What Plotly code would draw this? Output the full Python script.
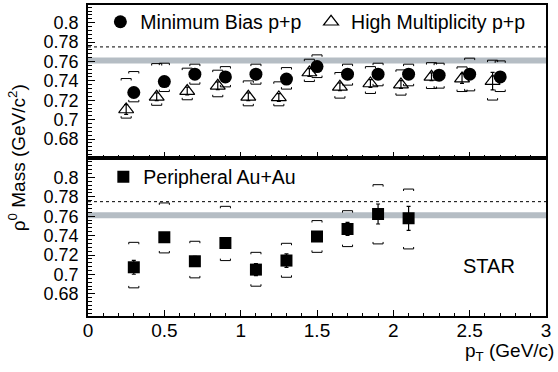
import plotly.graph_objects as go

# ---------------- data ----------------
pt_mb = [0.3, 0.5, 0.7, 0.9, 1.1, 1.3, 1.5, 1.7, 1.9, 2.1, 2.3, 2.5, 2.7]
mass_mb = [0.7280, 0.7393, 0.7469, 0.7441, 0.7469, 0.7418, 0.7547, 0.7469, 0.7469, 0.7469, 0.7459, 0.7469, 0.7441]
stat_mb = [0.004] * 13
sys_up_mb = [0.7496, 0.7582, 0.7572, 0.7547, 0.7572, 0.7537, 0.7668, 0.7572, 0.7582, 0.7572, 0.7582, 0.7634, 0.7606]
sys_lo_mb = [0.7184, 0.7290, 0.7366, 0.7338, 0.7366, 0.7315, 0.7434, 0.7356, 0.7349, 0.7349, 0.7325, 0.7297, 0.7290]

pt_hm = [0.25, 0.45, 0.65, 0.85, 1.05, 1.25, 1.45, 1.65, 1.85, 2.05, 2.25, 2.45, 2.65]
mass_hm = [0.7105, 0.7236, 0.7295, 0.7349, 0.7236, 0.7229, 0.7486, 0.7339, 0.7373, 0.7362, 0.7442, 0.7424, 0.7397]
stat_hm = [0.005, 0.004, 0.004, 0.004, 0.004, 0.004, 0.004, 0.004, 0.004, 0.004, 0.004, 0.005, 0.009]
sys_up_hm = [0.7424, 0.7578, 0.7531, 0.7510, 0.7400, 0.7390, 0.7623, 0.7486, 0.7547, 0.7513, 0.7588, 0.7544, 0.7613]
sys_lo_hm = [0.7016, 0.7148, 0.7205, 0.7236, 0.7143, 0.7143, 0.7393, 0.7222, 0.7270, 0.7253, 0.7321, 0.7290, 0.7202]

pt_au = [0.3, 0.5, 0.7, 0.9, 1.1, 1.3, 1.5, 1.7, 1.9, 2.1]
mass_au = [0.7074, 0.7383, 0.7136, 0.7325, 0.7050, 0.7143, 0.7390, 0.7469, 0.7623, 0.7578]
stat_au = [0.0072, 0.004, 0.005, 0.005, 0.0063, 0.0069, 0.004, 0.0067, 0.0103, 0.0123]
sys_up_au = [0.7331, 0.7737, 0.7342, 0.7702, 0.7228, 0.7321, 0.7555, 0.7657, 0.7925, 0.7880]
sys_lo_au = [0.6862, 0.7222, 0.6965, 0.7143, 0.6879, 0.6971, 0.7228, 0.7287, 0.7315, 0.7263]

pdg_mass = 0.775      # dashed line
band_center = 0.761   # grey band
band_half = 0.003

x_range = [0, 3]
y_range_top = [0.6608, 0.8182]
y_range_bot = [0.6572, 0.8203]

x_ticks = [0, 0.5, 1, 1.5, 2, 2.5, 3]
x_ticklabels = ["0", "0.5", "1", "1.5", "2", "2.5", "3"]
y_ticks = [0.68, 0.70, 0.72, 0.74, 0.76, 0.78, 0.80]
y_ticklabels = ["0.68", "0.7", "0.72", "0.74", "0.76", "0.78", "0.8"]

FONT = "Liberation Sans, Arial, Helvetica, sans-serif"
BW = 0.033   # bracket half width (x units)
BT = 0.002   # bracket tick length (y units)


def brackets(xs, ups, los):
    bx, by = [], []
    for x, u, l in zip(xs, ups, los):
        bx += [x - BW, x - BW, x + BW, x + BW, None]
        by += [u - BT, u, u, u - BT, None]
        bx += [x - BW, x - BW, x + BW, x + BW, None]
        by += [l + BT, l, l, l + BT, None]
    return bx, by


fig = go.Figure()

# top panel (x2, y2)
for xs, ups, los in [(pt_mb, sys_up_mb, sys_lo_mb), (pt_hm, sys_up_hm, sys_lo_hm)]:
    bx, by = brackets(xs, ups, los)
    fig.add_trace(go.Scatter(x=bx, y=by, mode="lines", line=dict(color="black", width=1),
                             xaxis="x2", yaxis="y2", showlegend=False, hoverinfo="skip"))

fig.add_trace(go.Scatter(
    x=pt_hm, y=mass_hm, mode="markers", name="High Multiplicity p+p",
    marker=dict(symbol="triangle-up-open", size=13, color="black", line=dict(width=1.2, color="black")),
    error_y=dict(type="data", array=stat_hm, color="black", thickness=1.2, width=2),
    xaxis="x2", yaxis="y2", legend="legend2"))
fig.add_trace(go.Scatter(
    x=pt_mb, y=mass_mb, mode="markers", name="Minimum Bias p+p",
    marker=dict(symbol="circle", size=13, color="black"),
    error_y=dict(type="data", array=stat_mb, color="black", thickness=1.2, width=2),
    xaxis="x2", yaxis="y2", legend="legend"))

# bottom panel (x, y)
bx, by = brackets(pt_au, sys_up_au, sys_lo_au)
fig.add_trace(go.Scatter(x=bx, y=by, mode="lines", line=dict(color="black", width=1),
                         xaxis="x", yaxis="y", showlegend=False, hoverinfo="skip"))
fig.add_trace(go.Scatter(
    x=pt_au, y=mass_au, mode="markers", name="Peripheral Au+Au",
    marker=dict(symbol="square", size=12, color="black"),
    error_y=dict(type="data", array=stat_au, color="black", thickness=1.2, width=2),
    xaxis="x", yaxis="y", legend="legend3"))

# reference band and dashed line in both panels
for xr, yr in [("x", "y"), ("x2", "y2")]:
    fig.add_shape(type="rect", xref=xr, yref=yr, x0=x_range[0], x1=x_range[1],
                  y0=band_center - band_half, y1=band_center + band_half,
                  fillcolor="#b5bdc4", line=dict(width=0), layer="below")
    fig.add_shape(type="line", xref=xr, yref=yr, x0=x_range[0], x1=x_range[1],
                  y0=pdg_mass, y1=pdg_mass, line=dict(color="black", width=1, dash="3px,3px"),
                  layer="below")

axis_common = dict(showline=True, linecolor="black", linewidth=1.5, mirror=True,
                   showgrid=False, zeroline=False, ticks="inside", tickcolor="black")

fig.update_layout(
    width=558, height=372,
    margin=dict(l=88, r=12, t=4, b=56),
    paper_bgcolor="white", plot_bgcolor="white",
    font=dict(family=FONT, color="black"),
    xaxis=dict(domain=[0, 1], range=x_range, anchor="y", tickvals=x_ticks, ticktext=x_ticklabels,
               ticklen=6, tickwidth=1, tickfont=dict(size=19), ticklabelstandoff=-4,
               minor=dict(dtick=0.1, ticklen=3, tickcolor="black", ticks="inside"), **axis_common),
    xaxis2=dict(domain=[0, 1], range=x_range, anchor="y2", matches="x", tickvals=x_ticks,
                showticklabels=False, ticklen=6, tickwidth=1,
                minor=dict(dtick=0.1, ticklen=3, tickcolor="black", ticks="inside"), **axis_common),
    yaxis=dict(domain=[0, 0.509], range=y_range_bot, anchor="x", tickvals=y_ticks, ticktext=y_ticklabels,
               ticklen=7, tickwidth=1, tickfont=dict(size=18), ticklabelstandoff=4,
               minor=dict(dtick=0.004, tick0=0.68, ticklen=4, tickcolor="black", ticks="inside"), **axis_common),
    yaxis2=dict(domain=[0.509, 1], range=y_range_top, anchor="x2", tickvals=y_ticks, ticktext=y_ticklabels,
                ticklen=7, tickwidth=1, tickfont=dict(size=18), ticklabelstandoff=4,
                minor=dict(dtick=0.004, tick0=0.68, ticklen=4, tickcolor="black", ticks="inside"), **axis_common),
    legend=dict(x=0.027, y=0.942, xanchor="left", yanchor="middle", orientation="h",
                font=dict(size=19.5), bgcolor="rgba(0,0,0,0)", itemwidth=30),
    legend2=dict(x=0.487, y=0.942, xanchor="left", yanchor="middle", orientation="h",
                 font=dict(size=19.5), bgcolor="rgba(0,0,0,0)", itemwidth=30),
    legend3=dict(x=0.0335, y=0.445, xanchor="left", yanchor="middle", orientation="h",
                 font=dict(size=19.5), bgcolor="rgba(0,0,0,0)", itemwidth=30),
    annotations=[
        dict(text="ρ<sup>0</sup> Mass (GeV/c<sup>2</sup>)", xref="paper", yref="paper",
             x=-0.156, y=0.509, textangle=-90, showarrow=False, font=dict(size=19),
             xanchor="center", yanchor="middle"),
        dict(text="p<sub>T</sub> (GeV/c)", xref="paper", yref="paper",
             x=1.022, y=-0.117, showarrow=False, font=dict(size=19),
             xanchor="right", yanchor="middle"),
        dict(text="STAR", xref="paper", yref="paper", x=0.875, y=0.162,
             showarrow=False, font=dict(size=20), xanchor="center", yanchor="middle"),
    ],
)

fig.write_html("out.html", config={"displayModeBar": False},
               post_script="document.body.style.margin='0';document.body.style.overflow='hidden';")
